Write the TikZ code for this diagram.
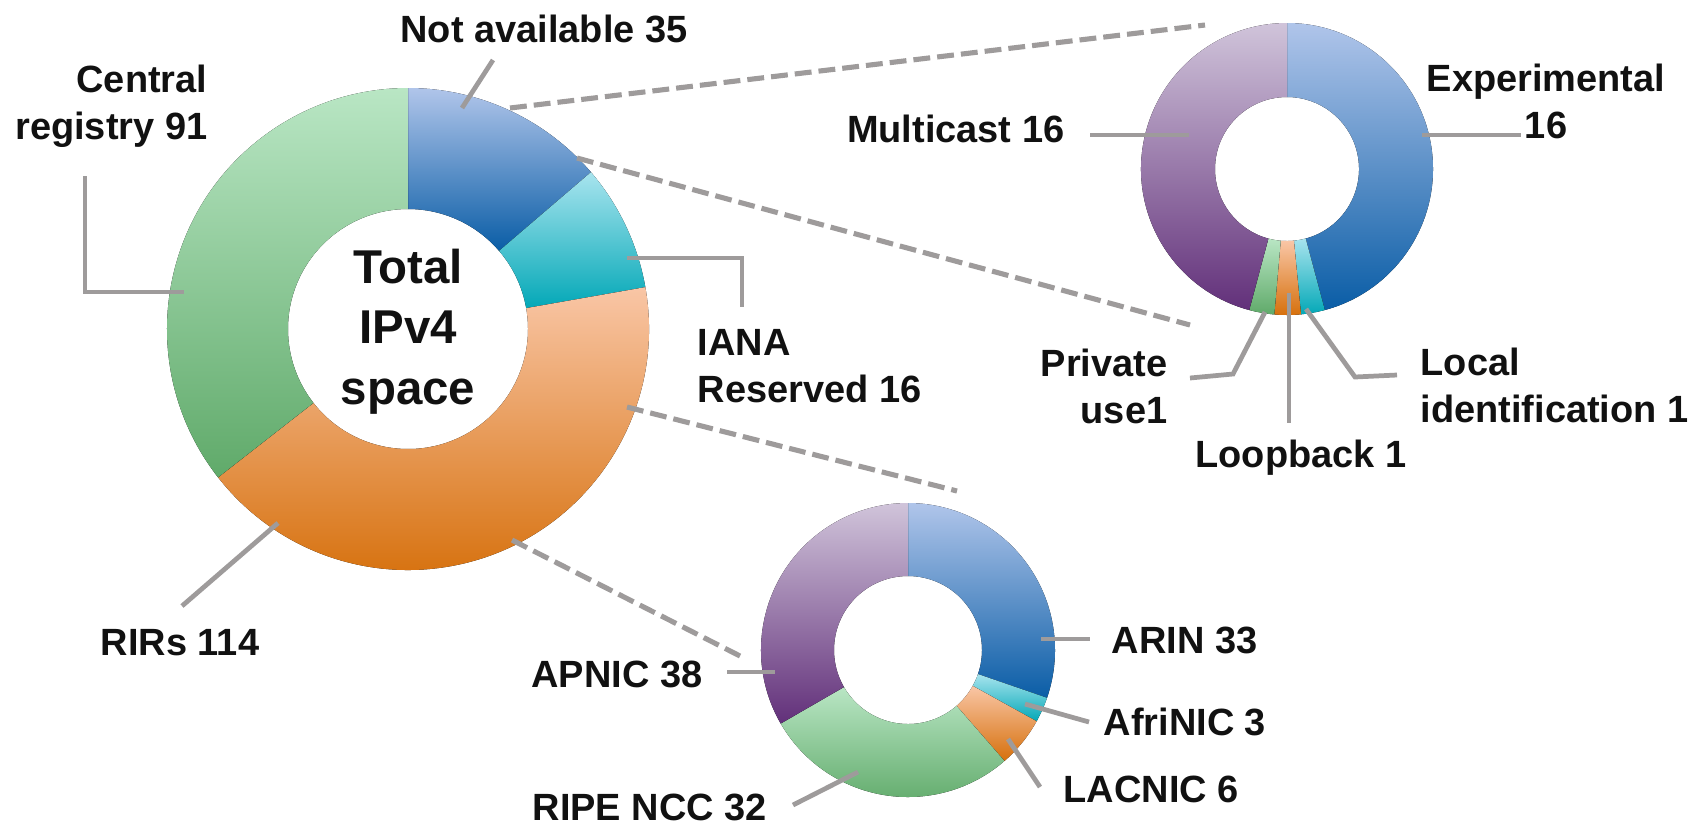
\documentclass[tikz,border=0pt]{standalone}
\usepackage{fontspec}
\setmainfont{Liberation Sans}
\definecolor{blueT}{HTML}{B0C5EA}
\definecolor{blueB}{HTML}{0A5DA6}
\definecolor{tealT}{HTML}{A8E4EE}
\definecolor{tealB}{HTML}{03A8B7}
\definecolor{orngT}{HTML}{F9C6A6}
\definecolor{orngB}{HTML}{D6700C}
\definecolor{grnT}{HTML}{B9E6C4}
\definecolor{grnB}{HTML}{60AA6A}
\definecolor{purpT}{HTML}{D0C4DA}
\definecolor{purpB}{HTML}{62307A}
\definecolor{ldrgray}{HTML}{9E9B9B}
\definecolor{txt}{HTML}{111111}
\begin{document}
\begin{tikzpicture}[x=0.1mm,y=0.1mm,
    lbl/.style={inner sep=0pt,text=txt,font=\bfseries\fontsize{10.8}{13.2}\selectfont},
    ttl/.style={inner sep=0pt,text=txt,align=center,font=\bfseries\fontsize{13.5}{17.1}\selectfont},
    ldr/.style={draw=ldrgray,line width=1.35pt},
    zoomln/.style={draw=ldrgray,line width=1.45pt,dash pattern=on 4.8pt off 2pt}]
    \useasboundingbox (0,0) rectangle (1699,-824);
    % total IPv4 space
    \begin{scope}[shift={(408,-329)}]
        \fill[top color=blueT,bottom color=blueB] (90:241) arc[start angle=90,end angle=40.6,radius=241] -- (40.6:120) arc[start angle=40.6,end angle=90,radius=120] -- cycle;
        \fill[top color=tealT,bottom color=tealB] (40.6:241) arc[start angle=40.6,end angle=10,radius=241] -- (10:120) arc[start angle=10,end angle=40.6,radius=120] -- cycle;
        \fill[top color=orngT,bottom color=orngB] (10:241) arc[start angle=10,end angle=-142,radius=241] -- (-142:120) arc[start angle=-142,end angle=10,radius=120] -- cycle;
        \fill[top color=grnT,bottom color=grnB] (-142:241) arc[start angle=-142,end angle=-270,radius=241] -- (-270:120) arc[start angle=-270,end angle=-142,radius=120] -- cycle;
    \end{scope}
    % not available
    \begin{scope}[shift={(1287,-169)}]
        \fill[top color=blueT,bottom color=blueB] (90:146) arc[start angle=90,end angle=-75,radius=146] -- (-75:72) arc[start angle=-75,end angle=90,radius=72] -- cycle;
        \fill[top color=tealT,bottom color=tealB] (-75:146) arc[start angle=-75,end angle=-84.5,radius=146] -- (-84.5:72) arc[start angle=-84.5,end angle=-75,radius=72] -- cycle;
        \fill[top color=orngT,bottom color=orngB] (-84.5:146) arc[start angle=-84.5,end angle=-95,radius=146] -- (-95:72) arc[start angle=-95,end angle=-84.5,radius=72] -- cycle;
        \fill[top color=grnT,bottom color=grnB] (-95:146) arc[start angle=-95,end angle=-105,radius=146] -- (-105:72) arc[start angle=-105,end angle=-95,radius=72] -- cycle;
        \fill[top color=purpT,bottom color=purpB] (-105:146) arc[start angle=-105,end angle=-270,radius=146] -- (-270:72) arc[start angle=-270,end angle=-105,radius=72] -- cycle;
    \end{scope}
    % RIRs
    \begin{scope}[shift={(908,-650)}]
        \fill[top color=blueT,bottom color=blueB] (90:147) arc[start angle=90,end angle=-19,radius=147] -- (-19:74) arc[start angle=-19,end angle=90,radius=74] -- cycle;
        \fill[top color=tealT,bottom color=tealB] (-19:147) arc[start angle=-19,end angle=-29,radius=147] -- (-29:74) arc[start angle=-29,end angle=-19,radius=74] -- cycle;
        \fill[top color=orngT,bottom color=orngB] (-29:147) arc[start angle=-29,end angle=-49,radius=147] -- (-49:74) arc[start angle=-49,end angle=-29,radius=74] -- cycle;
        \fill[top color=grnT,bottom color=grnB] (-49:147) arc[start angle=-49,end angle=-150,radius=147] -- (-150:74) arc[start angle=-150,end angle=-49,radius=74] -- cycle;
        \fill[top color=purpT,bottom color=purpB] (-150:147) arc[start angle=-150,end angle=-270,radius=147] -- (-270:74) arc[start angle=-270,end angle=-150,radius=74] -- cycle;
    \end{scope}
    \node[ttl,anchor=base] (TOT) at (408,-404) {Total\\IPv4\\space};
    \node[lbl,anchor=base] (NA) at (544,-42) {Not available 35};
    \node[lbl,align=right,anchor=base east] (CR) at (208,-139) {Central\\registry 91};
    \node[lbl,align=left,anchor=base west] (IANA) at (697,-402) {IANA\\Reserved 16};
    \node[lbl,anchor=base] (RIR) at (180,-655) {RIRs 114};
    \node[lbl,anchor=base east] (MC) at (1065,-142) {Multicast 16};
    \node[lbl,align=center,anchor=base] (EXP) at (1546,-138) {Experimental\\16};
    \node[lbl,align=right,anchor=base east] (PRIV) at (1168,-423) {Private\\use1};
    \node[lbl,anchor=base] (LOOP) at (1301,-467) {Loopback 1};
    \node[lbl,align=left,anchor=base west] (LOC) at (1420,-422) {Local\\identification 1};
    \node[lbl,anchor=base west] (ARIN) at (1111,-653) {ARIN 33};
    \node[lbl,anchor=base west] (AFR) at (1103,-735) {AfriNIC 3};
    \node[lbl,anchor=base west] (LAC) at (1063,-802) {LACNIC 6};
    \node[lbl,anchor=base east] (APN) at (703,-687) {APNIC 38};
    \node[lbl,anchor=base west] (RIPE) at (532,-820) {RIPE NCC 32};
    \coordinate (NA1) at (493,-60);
    \coordinate (NA2) at (462,-108);
    \coordinate (CR1) at (85,-176);
    \coordinate (CR2) at (85,-292);
    \coordinate (CR3) at (184,-292);
    \coordinate (IA1) at (627,-258);
    \coordinate (IA2) at (742,-258);
    \coordinate (IA3) at (742,-307);
    \coordinate (RI1) at (182,-606);
    \coordinate (RI2) at (278,-523);
    \coordinate (MC1) at (1090,-135);
    \coordinate (MC2) at (1189,-135);
    \coordinate (EX1) at (1422,-135);
    \coordinate (EX2) at (1521,-135);
    \coordinate (PR1) at (1190,-378);
    \coordinate (PR2) at (1233,-374);
    \coordinate (PR3) at (1265,-312);
    \coordinate (LB1) at (1289,-293);
    \coordinate (LB2) at (1289,-423);
    \coordinate (LO1) at (1306,-309);
    \coordinate (LO2) at (1355,-377);
    \coordinate (LO3) at (1397,-375);
    \coordinate (AR1) at (1041,-639);
    \coordinate (AR2) at (1090,-639);
    \coordinate (AF1) at (1025,-704);
    \coordinate (AF2) at (1089,-722);
    \coordinate (LA1) at (1008,-739);
    \coordinate (LA2) at (1040,-787);
    \coordinate (AP1) at (727,-672);
    \coordinate (AP2) at (775,-672);
    \coordinate (RP1) at (793,-805);
    \coordinate (RP2) at (858,-772);
    \coordinate (Z1) at (510,-108);
    \coordinate (Z2) at (1205,-25);
    \coordinate (Z3) at (577,-158);
    \coordinate (Z4) at (1190,-325);
    \coordinate (Z5) at (627,-407);
    \coordinate (Z6) at (957,-491);
    \coordinate (Z7) at (512,-540);
    \coordinate (Z8) at (742,-657);
    \draw[ldr] (NA1) -- (NA2);
    \draw[ldr] (CR1) -- (CR2) -- (CR3);
    \draw[ldr] (IA1) -- (IA2) -- (IA3);
    \draw[ldr] (RI1) -- (RI2);
    \draw[ldr] (MC1) -- (MC2);
    \draw[ldr] (EX1) -- (EX2);
    \draw[ldr] (PR1) -- (PR2) -- (PR3);
    \draw[ldr] (LB1) -- (LB2);
    \draw[ldr] (LO1) -- (LO2) -- (LO3);
    \draw[ldr] (AR1) -- (AR2);
    \draw[ldr] (AF1) -- (AF2);
    \draw[ldr] (LA1) -- (LA2);
    \draw[ldr] (AP1) -- (AP2);
    \draw[ldr] (RP1) -- (RP2);
    \draw[zoomln] (Z1) -- (Z2);
    \draw[zoomln] (Z3) -- (Z4);
    \draw[zoomln] (Z5) -- (Z6);
    \draw[zoomln] (Z7) -- (Z8);
\end{tikzpicture}
\end{document}
